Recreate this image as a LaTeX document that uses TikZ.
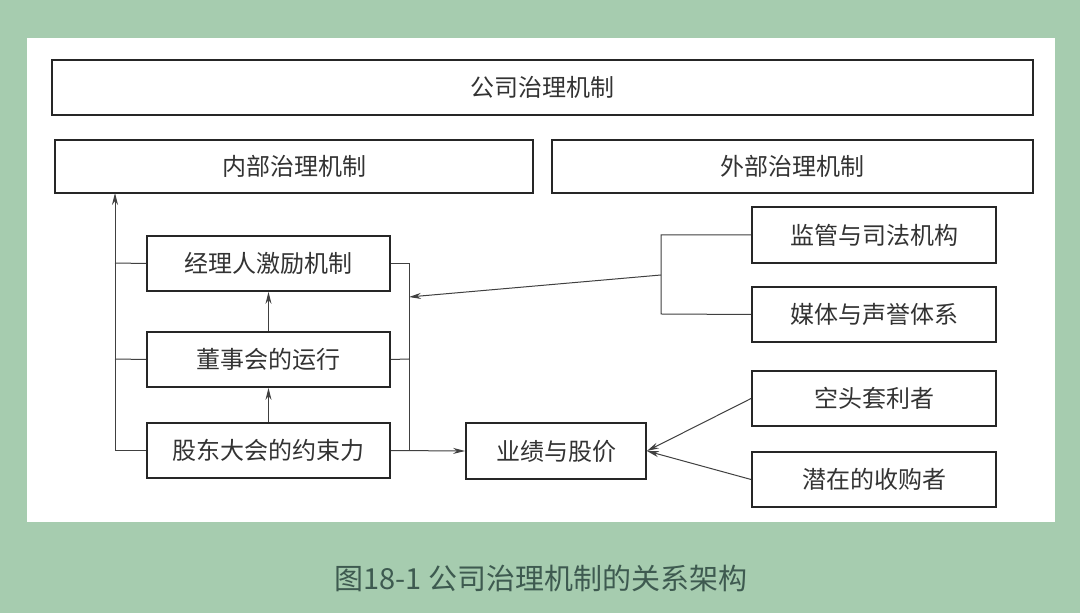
\documentclass[tikz,border=0pt]{standalone}
\usepackage{fontspec}
\setmainfont{Noto Sans CJK SC}
\usetikzlibrary{arrows.meta}
\definecolor{bg}{HTML}{A6CCAF}
\definecolor{cap}{HTML}{3E5A50}
\begin{document}
\begin{tikzpicture}[x=0.5pt,y=-0.5pt,
 box/.style={draw=black!85,line width=0.9pt,font=\fontsize{12}{14}\selectfont,text=black!80},
 ln/.style={draw=black!75,line width=0.5pt},
 arr/.style={ln,-{Stealth[length=6pt,width=3pt]}}]
\fill[bg] (0,0) rectangle (1080,613);
\fill[white] (27,38) rectangle (1055,522);
\useasboundingbox (0,0) rectangle (1080,613);
\newcommand{\bx}[6]{\path[box] (#2,#3) rectangle (#4,#5); \node[box,draw=none] (#1) at ({(#2+#4)/2},{(#3+#5)/2}) [minimum width={(#4-#2)*0.5pt},minimum height={(#5-#3)*0.5pt}] {#6};}
\bx{top}{52}{60}{1033}{115}{公司治理机制}
\bx{inn}{55}{140}{533}{193}{内部治理机制}
\bx{out}{552}{140}{1033}{193}{外部治理机制}
\bx{jl}{147}{236}{390}{291}{经理人激励机制}
\bx{ds}{147}{332}{390}{387}{董事会的运行}
\bx{gd}{147}{423}{390}{478}{股东大会的约束力}
\bx{yj}{466}{423}{646}{479}{业绩与股价}
\bx{jg}{752}{207}{996}{263}{监管与司法机构}
\bx{mt}{752}{287}{996}{342}{媒体与声誉体系}
\bx{kt}{752}{371}{996}{426}{空头套利者}
\bx{qz}{752}{452}{996}{507}{潜在的收购者}
\coordinate (la) at (115,193);
\draw[ln] (jl.west) -- (115,263);
\draw[ln] (ds.west) -- (115,359);
\draw[arr] (gd.west) -| (la);
\draw[arr] (gd.north) -- (ds.south);
\draw[arr] (ds.north) -- (jl.south);
\draw[ln] (jl.east) -| (409,450);
\draw[ln] (ds.east) -- (409,359);
\draw[arr] (gd.east) -- (yj.west);
\draw[ln] (jg.west) -| (661,314) -- (mt.west);
\coordinate (bp) at (661,275);
\coordinate (bt) at (409,297);
\draw[arr] (bp) -- (bt);
\draw[arr] (kt.west) -- (yj.east);
\draw[arr] (qz.west) -- (yj.east);
\node[text=cap,font=\fontsize{14.5}{16}\selectfont] (cp) at (541,578) {图18-1\ 公司治理机制的关系架构};
\end{tikzpicture}
\end{document}
